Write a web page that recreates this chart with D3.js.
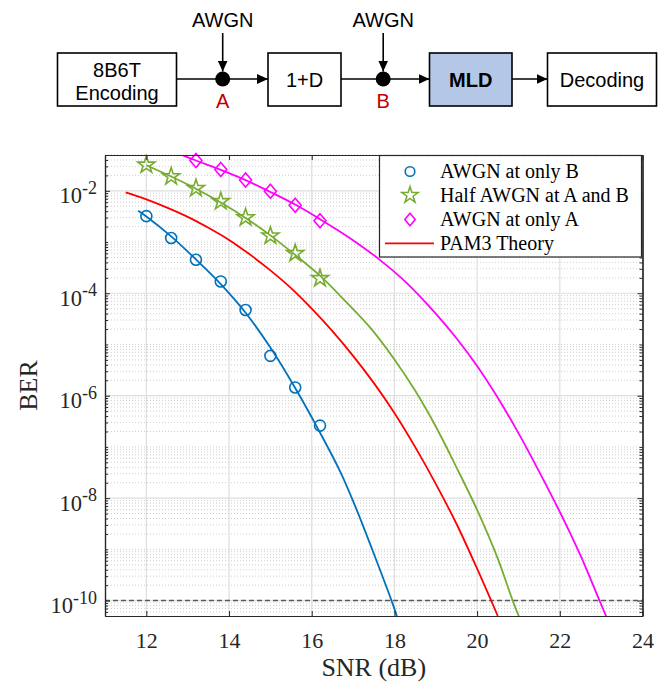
<!DOCTYPE html>
<html>
<head>
<meta charset="utf-8">
<script src="https://cdn.jsdelivr.net/npm/d3@7"></script>
<style>
  body { margin: 0; background: #fff; }
  svg { display: block; }
</style>
</head>
<body>
<svg id="chart" width="659" height="682"></svg>
<script>
// Simulated points (markers)
const snrSim = [12, 12.6, 13.2, 13.8, 14.4, 15.0, 15.6, 16.2];
const berOnlyB = [3.2e-3, 1.2e-3, 4.5e-4, 1.7e-4, 4.7e-5, 6.0e-6, 1.45e-6, 2.6e-7];
const berHalfAB = [3.2e-2, 1.9e-2, 1.12e-2, 6.2e-3, 3.0e-3, 1.32e-3, 6.0e-4, 1.95e-4];
const snrSimA = [13.2, 13.8, 14.4, 15.0, 15.6, 16.2];
const berOnlyA = [3.9e-2, 2.6e-2, 1.62e-2, 9.8e-3, 5.2e-3, 2.6e-3];

// Fitted curves
const snrFitB = [11.8, 12.0, 12.6, 13.2, 13.8, 14.4, 15.0, 15.6, 16.2, 16.7, 17.1, 17.5, 17.93, 18.06];
const berFitB = [4.07e-3, 3.16e-3, 1.29e-3, 4.57e-4, 1.51e-4, 4.17e-5, 8.7e-6, 1.41e-6, 1.9e-7, 3.16e-8, 5.6e-9, 8.3e-10, 1.0e-10, 5.0e-11];
const snrFitAB = [12.0, 12.6, 13.2, 13.8, 14.4, 15.0, 15.6, 16.2, 16.8, 17.4, 18.0, 18.5, 19.0, 19.5, 20.0, 20.5, 20.86, 21.02];
const berFitAB = [3.16e-2, 1.9e-2, 1.1e-2, 5.9e-3, 2.95e-3, 1.35e-3, 5.6e-4, 2.2e-4, 7.2e-5, 2.2e-5, 5.1e-6, 1.26e-6, 2.5e-7, 4.0e-8, 5.9e-9, 6.6e-10, 1.0e-10, 4.7e-11];
const snrFitA = [12.8, 13.2, 13.8, 14.4, 15.0, 15.6, 16.2, 16.9, 17.6, 18.3, 19.0, 19.5, 20.0, 20.5, 21.0, 21.5, 22.0, 22.5, 22.96, 23.12];
const berFitA = [5.25e-2, 3.9e-2, 2.57e-2, 1.62e-2, 9.5e-3, 5.4e-3, 2.8e-3, 1.23e-3, 4.8e-4, 1.58e-4, 4.0e-5, 1.32e-5, 3.8e-6, 9.1e-7, 1.86e-7, 3.3e-8, 5.4e-9, 7.6e-10, 1.0e-10, 5.0e-11];
const snrTheory = [11.5, 12.0, 12.5, 13.0, 13.5, 14.0, 14.5, 15.0, 15.5, 16.0, 16.5, 17.0, 17.5, 18.0, 18.5, 19.0, 19.5, 20.0, 20.34, 20.5];
const berTheory = [9.3e-3, 6.8e-3, 4.7e-3, 3.1e-3, 1.9e-3, 1.1e-3, 5.75e-4, 2.8e-4, 1.26e-4, 5.0e-5, 1.82e-5, 6.0e-6, 1.78e-6, 4.6e-7, 1.0e-7, 1.9e-8, 3.16e-9, 4.2e-10, 1.0e-10, 5.0e-11];

const berTarget = 1e-10;
const xTicks = [12, 14, 16, 18, 20, 22, 24];
const yMajor = [1e-2, 1e-4, 1e-6, 1e-8, 1e-10];
const legendLabels = ["AWGN at only B", "Half AWGN at A and B", "AWGN at only A", "PAM3 Theory"];

const colors = { B: "#0072BD", AB: "#77AC30", A: "#FF00FF", theory: "#FF0000" };
const serif = "'Liberation Serif', 'Times New Roman', serif";
const sans = "'Liberation Sans', Arial, sans-serif";
const axisColor = "#262626";

const svg = d3.select("#chart");

// ---------- block diagram ----------
const defs = svg.append("defs");
defs.append("marker")
  .attr("id", "head")
  .attr("markerUnits", "userSpaceOnUse")
  .attr("markerWidth", 11).attr("markerHeight", 10)
  .attr("refX", 11).attr("refY", 5)
  .attr("orient", "auto")
  .append("path").attr("d", "M0,0 L11,5 L0,10 Z").attr("fill", "#000");

const diag = svg.append("g");
const lineY = 79;
const boxTop = 53, boxH = 53;

const boxes = [
  { x0: 57.5, x1: 176.5, lines: ["8B6T", "Encoding"] },
  { x0: 268, x1: 341, lines: ["1+D"] },
  { x0: 429.5, x1: 512, lines: ["MLD"], fill: "#B4C7E7", bold: true },
  { x0: 547.5, x1: 656.5, lines: ["Decoding"] }
];
boxes.forEach(b => {
  diag.append("rect")
    .attr("x", b.x0).attr("y", boxTop)
    .attr("width", b.x1 - b.x0).attr("height", boxH)
    .attr("fill", b.fill || "#fff")
    .attr("stroke", "#000").attr("stroke-width", 1.6);
  const cx = (b.x0 + b.x1) / 2;
  const baselines = b.lines.length === 2 ? [77, 100] : [87];
  b.lines.forEach((t, i) => {
    diag.append("text")
      .attr("x", cx).attr("y", baselines[i])
      .attr("text-anchor", "middle")
      .attr("font-family", sans).attr("font-size", 20)
      .attr("font-weight", b.bold ? "bold" : "normal")
      .text(t);
  });
});

const nodes = [{ x: 222.7, name: "A" }, { x: 383.2, name: "B" }];
const link = (x1, x2, head) => diag.append("line")
  .attr("x1", x1).attr("y1", lineY).attr("x2", x2).attr("y2", lineY)
  .attr("stroke", "#000").attr("stroke-width", 1.6)
  .attr("marker-end", head ? "url(#head)" : null);
link(176.5, nodes[0].x, false);
link(nodes[0].x, 268, true);
link(341, nodes[1].x, false);
link(nodes[1].x, 429.5, true);
link(512, 547.5, true);

nodes.forEach(n => {
  diag.append("circle").attr("cx", n.x).attr("cy", lineY).attr("r", 7.5).attr("fill", "#000");
  diag.append("line")
    .attr("x1", n.x).attr("y1", 33).attr("x2", n.x).attr("y2", lineY - 7.5)
    .attr("stroke", "#000").attr("stroke-width", 1.6)
    .attr("marker-end", "url(#head)");
  diag.append("text")
    .attr("x", n.x).attr("y", 26.5).attr("text-anchor", "middle")
    .attr("font-family", sans).attr("font-size", 20).text("AWGN");
  diag.append("text")
    .attr("x", n.x).attr("y", 108).attr("text-anchor", "middle")
    .attr("font-family", sans).attr("font-size", 20).attr("fill", "#C00000").text(n.name);
});

// ---------- BER plot ----------
const M = { left: 105, right: 642.5, top: 155, bottom: 616 };
const x = d3.scaleLinear().domain([11, 24]).range([M.left, M.right]);
const y = d3.scaleLog().domain([5e-11, 5e-2]).range([M.bottom, M.top]);

// minor log ticks: 1..9 x 10^e inside the domain, minus the labelled decades
const yMinor = [];
for (let e = -11; e <= -2; e++) {
  for (let k = 1; k <= 9; k++) {
    const v = k * Math.pow(10, e);
    if (v >= 5e-11 && v <= 5e-2 && !yMajor.some(m => Math.abs(m - v) / m < 1e-6)) yMinor.push(v);
  }
}

defs.append("clipPath").attr("id", "plotClip")
  .append("rect").attr("x", M.left).attr("y", M.top)
  .attr("width", M.right - M.left).attr("height", M.bottom - M.top);

const plot = svg.append("g");

// grid
plot.append("g").selectAll("line").data(yMinor).join("line")
  .attr("x1", M.left).attr("x2", M.right)
  .attr("y1", d => y(d)).attr("y2", d => y(d))
  .attr("stroke", "#cfcfcf").attr("stroke-width", 1).attr("stroke-dasharray", "1,2");
plot.append("g").selectAll("line").data(yMajor).join("line")
  .attr("x1", M.left).attr("x2", M.right)
  .attr("y1", d => y(d)).attr("y2", d => y(d))
  .attr("stroke", "#dedede").attr("stroke-width", 1.2);
plot.append("g").selectAll("line").data(xTicks.slice(0, -1)).join("line")
  .attr("x1", d => x(d)).attr("x2", d => x(d))
  .attr("y1", M.top).attr("y2", M.bottom)
  .attr("stroke", "#dedede").attr("stroke-width", 1.2);

// BER target line
plot.append("line")
  .attr("x1", M.left).attr("x2", M.right)
  .attr("y1", y(berTarget)).attr("y2", y(berTarget))
  .attr("stroke", "#5a5a5a").attr("stroke-width", 1.5).attr("stroke-dasharray", "5,3");

// curves
const lineGen = d3.line().x(d => x(d[0])).y(d => y(d[1])).curve(d3.curveCatmullRom.alpha(0.5));
const curves = [
  { s: snrFitB, b: berFitB, c: colors.B },
  { s: snrFitAB, b: berFitAB, c: colors.AB },
  { s: snrFitA, b: berFitA, c: colors.A },
  { s: snrTheory, b: berTheory, c: colors.theory }
];
const curveG = plot.append("g").attr("clip-path", "url(#plotClip)");
curves.forEach(cv => {
  curveG.append("path")
    .datum(d3.zip(cv.s, cv.b))
    .attr("d", lineGen)
    .attr("fill", "none").attr("stroke", cv.c).attr("stroke-width", 1.8);
});

// marker shapes
const starPath = (R) => {
  const pts = [];
  for (let i = 0; i < 10; i++) {
    const r = i % 2 === 0 ? R : R * 0.382;
    const a = -Math.PI / 2 + i * Math.PI / 5;
    pts.push([r * Math.cos(a), r * Math.sin(a)]);
  }
  return "M" + pts.map(p => p.join(",")).join("L") + "Z";
};
const diamondPath = (w, h) => `M0,${-h}L${w},0L0,${h}L${-w},0Z`;

const drawCircle = (g, cx, cy, r) => g.append("circle")
  .attr("cx", cx).attr("cy", cy).attr("r", r)
  .attr("fill", "none").attr("stroke", colors.B).attr("stroke-width", 1.6);
const drawStar = (g, cx, cy, R) => g.append("path")
  .attr("d", starPath(R)).attr("transform", `translate(${cx},${cy})`)
  .attr("fill", "none").attr("stroke", colors.AB).attr("stroke-width", 1.6);
const drawDiamond = (g, cx, cy, w, h) => g.append("path")
  .attr("d", diamondPath(w, h)).attr("transform", `translate(${cx},${cy})`)
  .attr("fill", "none").attr("stroke", colors.A).attr("stroke-width", 1.6);

const markG = plot.append("g");
snrSim.forEach((s, i) => drawCircle(markG, x(s), y(berOnlyB[i]), 5.5));
snrSim.forEach((s, i) => drawStar(markG, x(s), y(berHalfAB[i]), 9));
snrSimA.forEach((s, i) => drawDiamond(markG, x(s), y(berOnlyA[i]), 6, 7));

// axes
const styleAxis = g => {
  g.selectAll("path.domain").attr("stroke", axisColor).attr("stroke-width", 1.2);
  g.selectAll(".tick line").attr("stroke", axisColor).attr("stroke-width", 1);
};
const bottomAx = plot.append("g").attr("transform", `translate(0,${M.bottom})`)
  .call(d3.axisBottom(x).tickValues(xTicks).tickSizeInner(-5).tickSizeOuter(0).tickPadding(16))
  .call(styleAxis);
bottomAx.selectAll(".tick text")
  .attr("font-family", serif).attr("font-size", 22).attr("fill", axisColor);
plot.append("g").attr("transform", `translate(0,${M.top})`)
  .call(d3.axisTop(x).tickValues(xTicks).tickSizeInner(-5).tickSizeOuter(0).tickFormat(""))
  .call(styleAxis);

const leftAx = plot.append("g").attr("transform", `translate(${M.left},0)`)
  .call(d3.axisLeft(y).tickValues(yMajor).tickSizeInner(-5).tickSizeOuter(0).tickFormat(""))
  .call(styleAxis);
plot.append("g").attr("transform", `translate(${M.left},0)`)
  .call(d3.axisLeft(y).tickValues(yMinor).tickSizeInner(-3).tickSizeOuter(0).tickFormat(""))
  .call(styleAxis);
plot.append("g").attr("transform", `translate(${M.right},0)`)
  .call(d3.axisRight(y).tickValues(yMajor).tickSizeInner(-5).tickSizeOuter(0).tickFormat(""))
  .call(styleAxis);
plot.append("g").attr("transform", `translate(${M.right},0)`)
  .call(d3.axisRight(y).tickValues(yMinor).tickSizeInner(-3).tickSizeOuter(0).tickFormat(""))
  .call(styleAxis);

leftAx.selectAll(".tick").each(function (d) {
  const t = d3.select(this).append("text")
    .attr("x", -8).attr("y", 12)
    .attr("text-anchor", "end")
    .attr("font-family", serif).attr("fill", axisColor);
  t.append("tspan").attr("font-size", 22.5).text("10");
  t.append("tspan").attr("font-size", 18).attr("dy", -9.5).text(String(Math.round(Math.log10(d))));
});

// axis titles
plot.append("text")
  .attr("x", (M.left + M.right) / 2).attr("y", 676)
  .attr("text-anchor", "middle")
  .attr("font-family", serif).attr("font-size", 26).attr("fill", axisColor)
  .text("SNR (dB)");
plot.append("text")
  .attr("transform", `translate(37,${(M.top + M.bottom) / 2}) rotate(-90)`)
  .attr("text-anchor", "middle")
  .attr("font-family", serif).attr("font-size", 26).attr("fill", axisColor)
  .text("BER");

// legend
const lg = plot.append("g");
lg.append("rect")
  .attr("x", 379.5).attr("y", 155.5).attr("width", 262).attr("height", 101.5)
  .attr("fill", "#fff").attr("stroke", axisColor).attr("stroke-width", 1.2);
const rowY = [171.5, 195.2, 219.5, 243.3];
drawCircle(lg, 410, rowY[0], 4.8);
drawStar(lg, 410, rowY[1], 8.5);
drawDiamond(lg, 410, rowY[2], 5.2, 6.2);
lg.append("line").attr("x1", 385).attr("x2", 434).attr("y1", rowY[3]).attr("y2", rowY[3])
  .attr("stroke", colors.theory).attr("stroke-width", 1.8);
legendLabels.forEach((t, i) => {
  lg.append("text")
    .attr("x", 440).attr("y", rowY[i] + 6.5)
    .attr("font-family", serif).attr("font-size", 20).attr("fill", "#000")
    .text(t);
});
</script>
</body>
</html>
